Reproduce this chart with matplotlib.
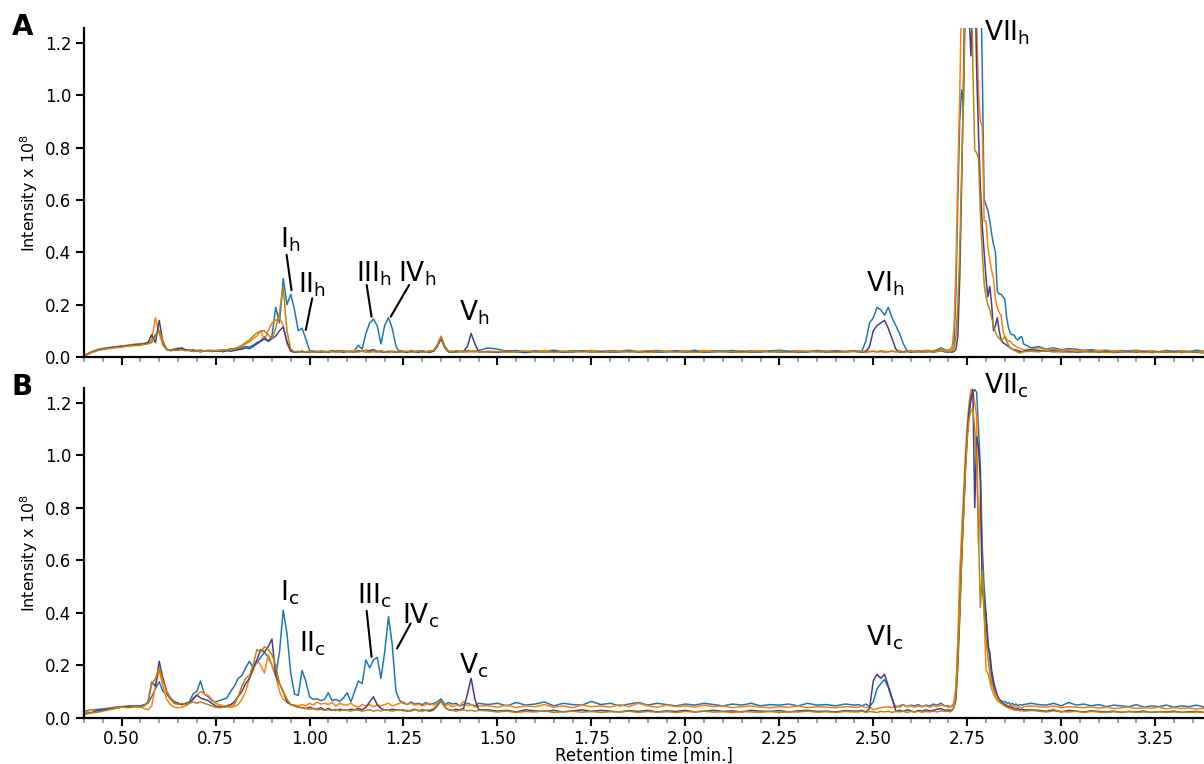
import matplotlib
matplotlib.use("Agg")
import matplotlib.pyplot as plt
import numpy as np
from matplotlib.ticker import MultipleLocator, FormatStrFormatter

COLORS = {
    "blue":   "#1f77b4",
    "orange": "#ff7f0e",
    "purple": "#483d8b",
    "gold":   "#b8860b",
}

# retention time sampling (min.), denser where the peaks are
T = np.round(np.concatenate([
    np.arange(0.40, 0.55, 0.02),
    np.arange(0.55, 1.455, 0.01),
    np.arange(1.475, 2.451, 0.025),
    np.arange(2.46, 2.695, 0.01),
    np.arange(2.70, 2.9025, 0.005),
    np.arange(2.92, 3.385, 0.02),
]), 3)

# intensities in units of 1e5 (i.e. 1e-3 x 1e8), panel A
A_BLUE = [
    5, 20, 30, 35, 38, 42, 45, 48,
    50, 52, 55, 62, 85, 100, 55, 30, 25, 28,
    34, 30, 27, 25, 28, 24, 27, 22, 25, 21,
    24, 22, 28, 25, 30, 32, 30, 36, 40, 38,
    45, 55, 62, 78, 60, 80, 190, 130, 300, 200,
    240, 180, 100, 110, 70, 25, 20, 22, 18, 22,
    20, 25, 22, 20, 24, 20, 22, 25, 45, 30,
    90, 130, 145, 120, 50, 120, 150, 110, 40, 20,
    22, 18, 22, 20, 24, 22, 20, 23, 25, 45,
    75, 40, 20, 22, 18, 22, 20, 25, 22, 20,
    25,
    35, 30, 22, 25, 20, 24, 22, 26, 20, 24, 22, 25, 21, 24, 22, 26, 20, 23, 25, 21,
    24, 22, 26, 20, 24, 22, 25, 21, 24, 20, 23, 26, 22, 24, 20, 25, 22, 24, 21, 23,
    22, 24, 60, 130, 150, 190, 180, 160, 190, 150, 120, 90, 50, 25, 20, 22, 20, 24,
    22, 20, 24, 28, 35, 28,
    25, 30, 35, 60, 250, 600, 900, 1020, 960, 1400, 1800, 2200, 2400, 2400, 2300,
    2100, 1800, 1500, 1100, 600, 580, 560, 520, 470, 430, 400, 250, 240, 240, 230,
    220, 150, 110, 90, 85, 84, 70, 65, 75, 78, 50,
    35, 40, 30, 35, 28, 32, 30, 25, 28, 24, 26, 22, 25, 23, 26, 22, 24, 20, 25, 22,
    24, 21, 26, 22,
]
A_PURPLE = [
    4, 18, 28, 33, 38, 40, 44, 47,
    48, 50, 55, 85, 55, 140, 55, 28, 25, 30,
    30, 35, 28, 25, 22, 24, 20, 25, 22, 24,
    22, 25, 20, 24, 22, 25, 28, 30, 35, 32,
    40, 50, 60, 70, 60, 70, 80, 100, 115, 60,
    22, 18, 20, 22, 18, 20, 22, 18, 22, 20,
    18, 22, 20, 24, 18, 22, 20, 18, 24, 22,
    20, 25, 28, 22, 20, 18, 22, 20, 18, 22,
    20, 18, 22, 20, 18, 22, 20, 18, 22, 40,
    70, 35, 20, 18, 22, 20, 22, 40, 90, 50,
    20,
    20, 18, 22, 20, 17, 21, 19, 22, 18, 20, 23, 19, 21, 18, 20, 22, 19, 21, 18, 20,
    22, 19, 21, 18, 20, 22, 19, 21, 18, 20, 22, 19, 21, 18, 20, 22, 19, 21, 20, 22,
    20, 18, 20, 40, 100, 120, 130, 140, 110, 70, 30, 18, 20, 22, 18, 20, 22, 18,
    20, 22, 18, 22, 24, 20,
    18, 20, 18, 22, 30, 80, 300, 650, 1050, 1500, 1700, 1300, 1150, 1400, 1500,
    1100, 850, 650, 500, 400, 300, 230, 270, 200, 100, 120, 150, 100, 65, 55,
    50, 45, 40, 35, 30, 28, 27, 24, 22, 20, 22,
    28, 25, 22, 24, 20, 22, 18, 20, 22, 18, 20, 17, 19, 21, 18, 20, 17, 19, 18, 20,
    17, 19, 18, 16,
]
A_ORANGE = [
    5, 20, 29, 34, 37, 41, 46, 50,
    52, 50, 55, 65, 150, 90, 45, 28, 25, 30,
    28, 32, 25, 28, 22, 25, 24, 22, 26, 24,
    25, 26, 24, 28, 30, 32, 35, 42, 50, 58,
    70, 80, 100, 65, 100, 130, 140, 150, 120, 50,
    22, 20, 18, 22, 20, 18, 22, 20, 22, 18,
    22, 20, 24, 18, 22, 20, 22, 25, 20, 22,
    28, 22, 20, 18, 22, 20, 18, 22, 20, 24,
    22, 20, 25, 22, 18, 22, 20, 24, 22, 45,
    80, 40, 22, 20, 24, 22, 20, 18, 22, 24,
    20,
    22, 20, 24, 19, 22, 21, 25, 20, 23, 19, 22, 24, 20, 22, 19, 23, 21, 24, 20, 22,
    19, 23, 21, 25, 20, 22, 19, 23, 21, 24, 20, 22, 19, 23, 21, 24, 20, 22, 21, 23,
    22, 20, 24, 21, 22, 20, 24, 22, 20, 23, 21, 24, 20, 22, 25, 21, 24, 22,
    26, 25, 22, 24, 30, 25,
    25, 28, 40, 120, 350, 700, 1000, 1400, 1800, 2200, 2400, 2400, 2200, 1900, 1600,
    1300, 1000, 900, 880, 520, 520, 420, 370, 330, 300, 220, 190, 170, 160, 100,
    80, 65, 60, 60, 50, 45, 40, 35, 33, 30, 28,
    30, 35, 28, 30, 25, 28, 24, 26, 22, 25, 21, 24, 22, 20, 23, 21, 24, 20, 22, 19,
    23, 21, 20, 22,
]
A_GOLD = [
    4, 17, 26, 31, 35, 38, 42, 44,
    45, 48, 50, 55, 80, 100, 60, 30, 24, 26,
    25, 28, 24, 26, 22, 24, 20, 24, 22, 25,
    24, 26, 25, 28, 30, 32, 38, 45, 55, 65,
    80, 92, 100, 100, 85, 70, 110, 170, 265, 100,
    30, 20, 22, 18, 20, 22, 18, 20, 22, 20,
    20, 22, 18, 20, 24, 20, 22, 18, 20, 22,
    20, 18, 22, 20, 24, 20, 18, 22, 20, 18,
    20, 22, 18, 20, 22, 18, 20, 22, 25, 45,
    78, 40, 22, 20, 18, 22, 20, 24, 20, 22,
    20,
    19, 21, 18, 20, 22, 19, 21, 18, 20, 22, 19, 21, 18, 20, 22, 19, 21, 18, 20, 22,
    19, 21, 18, 20, 22, 19, 21, 18, 20, 22, 19, 21, 18, 20, 22, 19, 21, 18, 20, 21,
    19, 21, 18, 20, 22, 19, 21, 18, 20, 22, 19, 21, 18, 20, 22, 19, 21, 18,
    20, 22, 19, 21, 24, 22,
    20, 22, 25, 35, 80, 200, 400, 700, 1000, 1400, 1800, 2000, 1600, 1100, 790,
    780, 760, 550, 400, 280, 230, 200, 180, 150, 120, 95, 80, 70, 65, 70,
    78, 60, 45, 33, 30, 25, 22, 18, 15, 18, 20,
    22, 20, 24, 19, 21, 18, 20, 22, 18, 20, 17, 19, 21, 18, 20, 17, 19, 18, 20, 17,
    19, 18, 20, 17,
]

# panel B
B_BLUE = [
    25, 30, 32, 35, 40, 42, 45, 43,
    45, 50, 55, 80, 110, 137, 100, 90, 70, 60,
    55, 50, 55, 60, 90, 100, 140, 90, 80, 65,
    60, 65, 70, 75, 100, 120, 150, 160, 190, 215,
    190, 210, 230, 250, 230, 200, 160, 250, 410, 320,
    170, 90, 85, 180, 140, 80, 70, 72, 65, 70,
    95, 65, 70, 62, 75, 95, 60, 100, 140, 130,
    220, 190, 220, 230, 150, 250, 385, 280, 100, 65,
    55, 50, 60, 52, 55, 50, 58, 50, 55, 60,
    72, 50, 58, 52, 55, 45, 50, 55, 50, 45,
    55,
    50, 55, 45, 58, 48, 52, 60, 45, 55, 50, 48, 62, 50, 55, 45, 52, 58, 48, 55, 50,
    45, 52, 48, 55, 50, 45, 52, 48, 55, 45, 50, 48, 52, 45, 55, 48, 50, 45, 52, 48,
    50, 45, 52, 42, 60, 110, 130, 145, 115, 70, 40, 45, 50, 42, 48, 45, 50, 42,
    48, 45, 52, 48, 55, 45,
    45, 40, 45, 55, 90, 250, 420, 620, 780, 950, 1080, 1160, 1210, 1240, 1250,
    1240, 1100, 950, 650, 500, 400, 300, 220, 160, 120, 95, 80, 70, 65, 60,
    62, 55, 58, 50, 55, 48, 52, 45, 50, 48, 50,
    55, 50, 48, 55, 45, 58, 48, 52, 45, 50, 42, 48, 45, 42, 50, 40, 45, 42, 48, 40,
    45, 42, 48, 40,
]
B_PURPLE = [
    15, 20, 28, 32, 35, 40, 42, 45,
    42, 45, 60, 135, 120, 215, 150, 100, 75, 60,
    55, 50, 52, 55, 70, 86, 75, 70, 65, 55,
    45, 42, 40, 45, 50, 60, 80, 100, 130, 150,
    190, 220, 260, 250, 270, 300, 160, 130, 100, 60,
    50, 45, 40, 38, 35, 40, 35, 32, 38, 30,
    35, 30, 28, 32, 30, 28, 32, 30, 35, 30,
    40, 60, 80, 50, 35, 30, 28, 32, 30, 28,
    30, 25, 28, 32, 26, 30, 28, 25, 30, 45,
    65, 40, 30, 28, 32, 30, 35, 90, 150, 70,
    30,
    30, 25, 28, 22, 30, 26, 24, 28, 22, 26, 30, 24, 28, 25, 22, 27, 24, 28, 22, 26,
    24, 28, 22, 25, 28, 24, 26, 22, 28, 25, 24, 27, 22, 26, 28, 24, 25, 22, 27, 25,
    25, 28, 22, 35, 140, 165, 150, 165, 120, 75, 25, 28, 24, 30, 26, 22, 28, 25,
    30, 26, 28, 32, 35, 28,
    30, 28, 30, 40, 70, 200, 380, 600, 780, 950, 1080, 1170, 1220, 1250, 800,
    1070, 1030, 900, 490, 450, 380, 270, 250, 180, 140, 110, 85, 70, 60, 55,
    50, 45, 42, 40, 38, 35, 32, 35, 30, 32, 30,
    30, 28, 25, 30, 22, 28, 25, 22, 26, 24, 22, 25, 20, 24, 22, 25, 20, 23, 22, 25,
    20, 22, 24, 20,
]
B_ORANGE = [
    18, 30, 25, 33, 38, 42, 44, 42,
    40, 35, 30, 45, 120, 180, 120, 70, 50, 40,
    38, 40, 45, 55, 75, 85, 100, 90, 85, 70,
    55, 50, 45, 42, 40, 42, 50, 70, 100, 150,
    180, 220, 200, 170, 240, 200, 160, 100, 70, 60,
    50, 48, 45, 50, 45, 55, 48, 60, 52, 55,
    50, 58, 45, 55, 50, 48, 55, 45, 40, 50,
    45, 50, 42, 48, 45, 50, 55, 45, 50, 55,
    60, 50, 55, 48, 52, 45, 50, 55, 48, 55,
    60, 45, 50, 42, 48, 45, 62, 45, 50, 40,
    45,
    45, 40, 48, 38, 45, 42, 50, 40, 45, 38, 48, 42, 45, 40, 50, 42, 55, 45, 40, 48,
    42, 45, 40, 48, 42, 45, 38, 42, 45, 40, 38, 42, 40, 45, 38, 42, 40, 38, 42, 40,
    40, 45, 38, 42, 30, 35, 38, 40, 42, 38, 45, 40, 48, 42, 45, 40, 44, 42,
    46, 40, 45, 42, 48, 45,
    40, 42, 45, 60, 120, 300, 550, 700, 850, 1000, 1120, 1200, 1250, 1250, 1200,
    1150, 660, 850, 520, 400, 180, 170, 140, 110, 90, 75, 65, 60, 55, 52,
    50, 48, 45, 48, 42, 45, 40, 42, 40, 38, 42,
    45, 42, 40, 45, 38, 42, 40, 38, 42, 36, 40, 35, 38, 40, 35, 38, 36, 40, 34, 38,
    35, 37, 33, 36,
]
B_GOLD = [
    12, 18, 22, 28, 34, 40, 38, 42,
    40, 45, 60, 130, 150, 190, 140, 100, 70, 55,
    50, 55, 50, 55, 60, 55, 60, 55, 50, 45,
    40, 38, 40, 42, 45, 50, 80, 120, 150, 160,
    200, 260, 250, 270, 260, 240, 200, 130, 100, 70,
    50, 45, 40, 38, 35, 32, 35, 30, 32, 28,
    30, 28, 32, 26, 30, 28, 25, 30, 28, 25,
    28, 30, 25, 28, 26, 30, 28, 25, 28, 30,
    26, 28, 25, 30, 28, 25, 28, 30, 35, 50,
    65, 40, 30, 28, 25, 28, 30, 26, 28, 25,
    28,
    26, 22, 25, 20, 24, 22, 26, 20, 23, 25, 21, 24, 20, 23, 22, 25, 20, 24, 21, 23,
    20, 24, 22, 25, 21, 23, 20, 24, 22, 21, 24, 20, 23, 22, 25, 21, 23, 20, 24, 22,
    22, 25, 20, 24, 22, 20, 24, 22, 25, 20, 24, 22, 25, 20, 24, 22, 25, 21,
    24, 22, 25, 22, 26, 24,
    25, 22, 28, 40, 90, 230, 400, 600, 760, 930, 1060, 1140, 1170, 1180, 1100,
    970, 700, 420, 560, 400, 300, 230, 170, 130, 110, 90, 75, 65, 55, 50,
    45, 40, 38, 35, 32, 30, 28, 30, 26, 28, 25,
    28, 25, 22, 26, 24, 22, 25, 20, 24, 22, 20, 23, 21, 24, 20, 22, 21, 23, 20, 22,
    21, 20, 22, 21,
]

# peak labels: (numeral, text x, text y) and leader lines (x0, y0, x1, y1)
PEAKS_A = [("I", 0.921, 0.42), ("II", 0.969, 0.245), ("III", 1.124, 0.29),
           ("IV", 1.236, 0.29), ("V", 1.398, 0.14), ("VI", 2.481, 0.25),
           ("VII", 2.795, 1.21)]
LEADERS_A = [(0.939, 0.39, 0.952, 0.255), (1.007, 0.224, 0.990, 0.103),
             (1.152, 0.275, 1.165, 0.154), (1.265, 0.275, 1.216, 0.154)]
PEAKS_B = [("I", 0.921, 0.447), ("II", 0.972, 0.254), ("III", 1.125, 0.436),
           ("IV", 1.246, 0.36), ("V", 1.398, 0.17), ("VI", 2.481, 0.276),
           ("VII", 2.795, 1.234)]
LEADERS_B = [(1.152, 0.407, 1.165, 0.232), (1.269, 0.359, 1.233, 0.264)]


def style_axis(ax, show_xlabels):
    ax.set_xlim(0.40, 3.38)
    ax.set_ylim(0, 1.255)
    for side in ("top", "right"):
        ax.spines[side].set_visible(False)
    for side in ("left", "bottom"):
        ax.spines[side].set_linewidth(1.6)
    ax.xaxis.set_major_locator(MultipleLocator(0.25))
    ax.xaxis.set_minor_locator(MultipleLocator(0.05))
    ax.xaxis.set_major_formatter(FormatStrFormatter("%.2f"))
    ax.yaxis.set_major_locator(MultipleLocator(0.2))
    ax.yaxis.set_major_formatter(FormatStrFormatter("%.1f"))
    ax.tick_params(which="major", direction="out", length=6, width=1.5, labelsize=12, pad=3)
    ax.tick_params(which="minor", direction="out", length=3.5, width=1.3, color="#999999")
    ax.tick_params(axis="y", which="minor", left=False)
    ax.tick_params(axis="x", labelbottom=show_xlabels)
    ax.set_ylabel("Intensity x 10$^8$", fontsize=11.5)
    ax.yaxis.set_label_coords(-0.039, 0.5)


def draw_panel(ax, series, peaks, leaders, sub):
    for name, vals in series:
        y = np.array(vals) / 1000.0
        ax.plot(T, y, color=COLORS[name], lw=1.1)
    for num, x, y in peaks:
        ax.text(x, y, r"$\mathregular{%s_{%s}}$" % (num, sub), fontsize=19,
                ha="left", va="baseline")
    for x0, y0, x1, y1 in leaders:
        ax.annotate("", xy=(x1, y1), xytext=(x0, y0),
                    arrowprops=dict(arrowstyle="-", color="black", lw=1.5,
                                    shrinkA=0, shrinkB=0))


for arr in (A_BLUE, A_PURPLE, A_ORANGE, A_GOLD, B_BLUE, B_PURPLE, B_ORANGE, B_GOLD):
    assert len(arr) == len(T), (len(arr), len(T))

fig = plt.figure(figsize=(12.04, 7.64), dpi=100)
ax_a = fig.add_axes([0.0698, 0.5327, 0.9302, 0.4302])
ax_b = fig.add_axes([0.0698, 0.0606, 0.9302, 0.4311])

draw_panel(ax_a, [("blue", A_BLUE), ("orange", A_ORANGE), ("purple", A_PURPLE), ("gold", A_GOLD)],
           PEAKS_A, LEADERS_A, "h")
draw_panel(ax_b, [("blue", B_BLUE), ("orange", B_ORANGE), ("purple", B_PURPLE), ("gold", B_GOLD)],
           PEAKS_B, LEADERS_B, "c")
style_axis(ax_a, False)
style_axis(ax_b, True)
ax_b.set_xlabel("Retention time [min.]", fontsize=12, labelpad=-1)

fig.text(12 / 1204, 1 - 35 / 764, "A", fontsize=20, fontweight="bold", va="baseline")
fig.text(12 / 1204, 1 - 395 / 764, "B", fontsize=20, fontweight="bold", va="baseline")

fig.savefig("out.png", dpi=100)
